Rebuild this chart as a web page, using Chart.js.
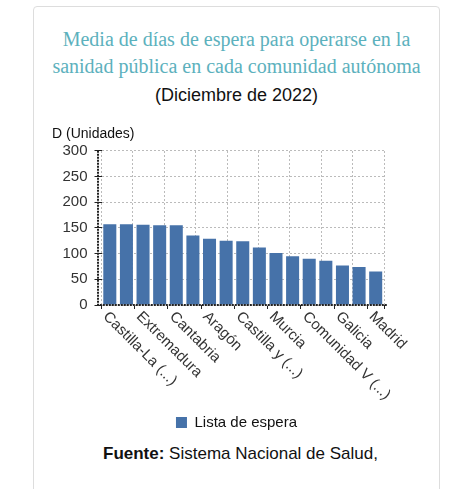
<!DOCTYPE html>
<html>
<head>
<meta charset="utf-8">
<script src="https://cdn.jsdelivr.net/npm/chart.js@4.4.1/dist/chart.umd.min.js"></script>
<style>
  html, body { margin: 0; padding: 0; background: #fff; width: 474px; height: 489px; overflow: hidden; }
  .card { position: absolute; left: 33px; top: 6px; width: 405px; height: 500px; border: 1px solid #ddd; border-radius: 4px; }
  .title { position: absolute; left: 33px; width: 407px; top: 26px; text-align: center;
           font-family: "Liberation Serif", "Times New Roman", serif; font-size: 20px; line-height: 27px; color: #5cb1bd; }
  .sub { position: absolute; left: 33px; width: 407px; top: 85px; text-align: center;
         font-family: "Liberation Sans", Arial, sans-serif; font-size: 18px; color: #111; }
  .wrap { position: absolute; left: 48px; top: 120px; width: 377px; height: 320px; }
  .src { position: absolute; left: 103px; top: 444px; font-family: "Liberation Sans", Arial, sans-serif; font-size: 17px; color: #111; }
</style>
</head>
<body>
<div class="card"></div>
<div class="title">Media de días de espera para operarse en la<br>sanidad pública en cada comunidad autónoma</div>
<div class="sub">(Diciembre de 2022)</div>
<div class="wrap"><canvas id="chart"></canvas></div>
<div class="src"><b>Fuente:</b> Sistema Nacional de Salud,</div>
<script>
// categories (every other label is shown on the axis)
const categories = ['Castilla-La (...)', 'Cataluña', 'Extremadura', 'Canarias', 'Cantabria', 'Andalucía',
  'Aragón', 'Baleares', 'Castilla y (...)', 'Navarra', 'Murcia', 'Asturias', 'Comunidad V (...)',
  'La Rioja', 'Galicia', 'País Vasco', 'Madrid'];
const waitDays = [157, 157, 156, 155, 155, 135, 129, 125, 124, 112, 101, 95, 90, 86, 77, 74, 65];
const yTicks = [0, 50, 100, 150, 200, 250, 300];

const FONT = '"Liberation Sans", Arial, sans-serif';

// rotated x labels + dotted axis lines
const axisPlugin = {
  id: 'axisPlugin',
  afterDraw(chart) {
    const { ctx, chartArea, scales: { x } } = chart;
    ctx.save();
    ctx.strokeStyle = '#222';
    ctx.lineWidth = 2;
    ctx.setLineDash([2, 1]);
    ctx.beginPath();
    ctx.moveTo(chartArea.left - 3.5, chartArea.top);
    ctx.lineTo(chartArea.left - 3.5, chartArea.bottom);
    ctx.lineTo(chartArea.right + 3.5, chartArea.bottom);
    ctx.stroke();
    ctx.setLineDash([]);
    ctx.font = '15px ' + FONT;
    ctx.fillStyle = '#333';
    ctx.textAlign = 'left';
    ctx.textBaseline = 'top';
    categories.forEach((lab, i) => {
      if (i % 2) return;
      const px = x.getPixelForValue(i);
      ctx.save();
      ctx.translate(px + 1, chartArea.bottom + 4);
      ctx.rotate(Math.PI / 4);
      ctx.fillText(lab, 0, 0);
      ctx.restore();
    });
    ctx.restore();
  }
};

new Chart(document.getElementById('chart'), {
  type: 'bar',
  data: {
    labels: categories,
    datasets: [{
      label: 'Lista de espera',
      data: waitDays,
      backgroundColor: '#4672a9',
      categoryPercentage: 0.8,
      barPercentage: 0.98
    }]
  },
  options: {
    responsive: true,
    maintainAspectRatio: false,
    animation: false,
    layout: { padding: { left: 4, right: 4, top: 0, bottom: 0 } },
    plugins: {
      title: {
        display: true, text: 'D (Unidades)', align: 'start', color: '#111',
        font: { family: FONT, size: 14, weight: 'normal' },
        padding: { top: 6, bottom: 8 }
      },
      legend: {
        position: 'bottom',
        labels: { boxWidth: 11, boxHeight: 11, color: '#111', font: { family: FONT, size: 15 } }
      },
      tooltip: { enabled: false }
    },
    scales: {
      x: {
        grid: {
          drawOnChartArea: false, tickLength: 4, tickWidth: 1,
          tickColor: c => (c.index % 2 ? 'rgba(0,0,0,0)' : '#222')
        },
        border: { display: false },
        ticks: { display: false },
        afterFit: s => { s.height = 100; }
      },
      x2: {
        type: 'linear', position: 'top', min: 0, max: 8,
        ticks: { display: false, stepSize: 1 },
        grid: { color: '#bbb', drawTicks: false },
        border: { display: false, dash: [2, 2] }
      },
      y: {
        min: 0, max: 300,
        afterBuildTicks: s => { s.ticks = yTicks.map(v => ({ value: v })); },
        ticks: { color: '#333', padding: 7, font: { family: FONT, size: 15 } },
        grid: { color: '#bbb', tickColor: '#222', tickLength: 7, tickBorderDash: [] },
        border: { display: false, dash: [2, 2] },
        afterFit: s => { s.width = 49.5; }
      },
      // empty right-hand axis, only reserves space so the legend stays centred
      y2: {
        position: 'right', min: 0, max: 1,
        ticks: { display: false }, grid: { display: false }, border: { display: false },
        afterFit: s => { s.width = 37; }
      }
    }
  },
  plugins: [axisPlugin]
});
</script>
</body>
</html>
